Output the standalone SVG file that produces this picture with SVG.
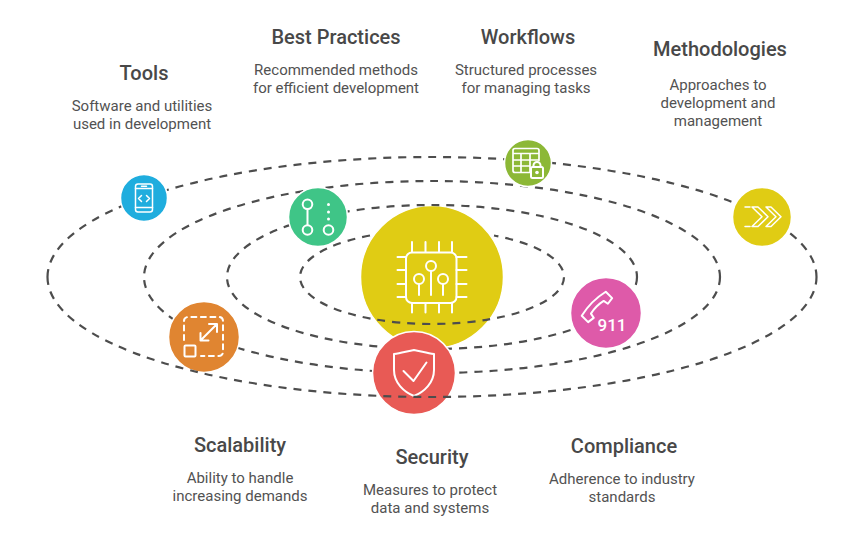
<svg xmlns="http://www.w3.org/2000/svg" width="864" height="538" viewBox="0 0 864 538">
<style>
.t{font-family:Roboto,"Liberation Sans",sans-serif;font-size:20px;font-weight:500;fill:#484848;text-anchor:middle}
.b{font-family:Roboto,"Liberation Sans",sans-serif;font-size:15px;fill:#525252;text-anchor:middle}
.o{fill:none;stroke:#4d4d4d;stroke-width:2.2;stroke-dasharray:8 7}
.n{stroke:#fff;stroke-width:1.5}
.i{fill:none;stroke:#fff;stroke-width:2;stroke-linecap:round;stroke-linejoin:round}
.f{fill:#fff}
</style>
<rect width="864" height="538" fill="#fff"/>
<g id="node-core"><circle class="n" cx="432" cy="277" r="71.500" fill="#e0cc14"/>
<g class="i"><rect x="406" y="252.500" width="50.500" height="50.500" rx="6"/>
<path d="M412 242v10M425.500 242v10M439 242v10M452 242v10M412 303v9.500M425.500 303v9.500M439 303v9.500M452 303v9.500M397.500 257h8.500M397.500 270h8.500M397.500 284h8.500M397.500 297h8.500M456.500 257h10M456.500 270h10M456.500 284h10M456.500 297h10"/>
<circle cx="431" cy="266" r="5"/><path d="M431 271v24"/><circle cx="419" cy="279" r="5"/><path d="M419 284v11"/><circle cx="443" cy="279" r="5"/><path d="M443 284v11"/></g></g>
<g id="connectors">
<path class="o" d="M370 235.500A132 47 0 1 0 494 235.500"/>
<ellipse class="o" cx="432" cy="277" rx="205" ry="72"/>
<ellipse class="o" cx="432" cy="277" rx="288" ry="96"/>
<path class="o" d="M47.500 277A384.500 120 0 0 1 816.500 277"/>
</g>
<g id="node-tools"><circle class="n" cx="144" cy="198" r="23.500" fill="#1fadde"/>
<g class="i" style="stroke-width:1.500"><rect x="135.500" y="184" width="17" height="28" rx="2.500"/><path d="M135.500 188.500h17M135.500 207.500h17M141.500 186.300h5M141.500 195.500l-3 3 3 3M146.500 195.500l3 3-3 3"/></g></g>
<g id="node-best-practices"><circle class="n" cx="318" cy="217" r="29.500" fill="#3fc587"/>
<g class="i"><circle cx="307.500" cy="204.300" r="4.800"/><circle cx="307.500" cy="230" r="4.800"/><path d="M307.500 209v16"/><circle cx="328.500" cy="230" r="4.800"/></g>
<circle class="f" cx="328.500" cy="204.500" r="1.500"/><circle class="f" cx="328.500" cy="212" r="1.500"/><circle class="f" cx="328.500" cy="219" r="1.500"/></g>
<g id="node-workflows"><circle class="n" cx="528" cy="163" r="23.500" fill="#8cb836"/>
<g class="i"><path d="M530 172.500h-15a2 2 0 0 1-2-2v-20a2 2 0 0 1 2-2h22a2 2 0 0 1 2 2v10M513 153.500h26M513 160h26M513 166h17M521 153.500v19M530 153.500v19" style="stroke-width:1.700"/>
<rect x="531" y="167" width="12" height="11" rx="1.500" fill="#8cb836"/><path d="M533.500 167v-1.500a3.500 3.500 0 0 1 7 0V167"/></g><circle class="f" cx="537" cy="172.500" r="1.800"/></g>
<g id="node-methodologies"><circle class="n" cx="762" cy="217" r="29.500" fill="#e0cc14"/>
<g class="i" style="stroke-width:1.500"><path d="M745 207h5M745 226.500h5M752 207h6l10 9.700-10 9.800h-6l10-9.800zM766 207h5l10 9.700-10 9.800h-5l10-9.800z"/></g></g>
<g id="node-scalability"><circle class="n" cx="204" cy="337" r="35.500" fill="#e08531"/>
<g class="i"><path d="M184 340v-19a4 4 0 0 1 4-4h31a4 4 0 0 1 4 4v31a4 4 0 0 1-4 4h-18" stroke-dasharray="5 4.500"/><rect x="184.500" y="345.500" width="11" height="11" rx="1"/><path d="M200.500 340.500l16.500-16.500M209 324h8v8M200.500 333v7.500h8"/></g></g>
<g id="node-security"><circle class="n" cx="414" cy="373" r="41.500" fill="#e85a55"/>
<g class="i"><path d="M394 354c7-1 14-3 20-4 6 1 13 3 20 4v16c0 13-10 22-20 26-10-4-20-13-20-26z"/><path d="M403.500 371l10 10 13-18.500"/></g></g>
<g id="node-compliance"><circle class="n" cx="606" cy="313" r="35.500" fill="#de5aa9"/>
<path class="i" transform="translate(598 308) rotate(-45)" d="M-17 -6Q0 -10 17 -6L17 3L10 4L9 -1Q0 -3 -9 -1L-10 4L-17 3Z"/>
<text x="612" y="331" font-family="Roboto,'Liberation Sans',sans-serif" font-size="17" font-weight="500" fill="#fff" text-anchor="middle">911</text></g>
<g id="connectors-front"><path class="o" d="M47.500 277A384.500 120 0 0 0 816.500 277"/></g>
<g id="labels">
<text class="t" x="144" y="80">Tools</text>
<text class="b" x="142" y="111">Software and utilities</text><text class="b" x="142" y="129">used in development</text>
<text class="t" x="336" y="44">Best Practices</text>
<text class="b" x="336" y="75">Recommended methods</text><text class="b" x="336" y="93">for efficient development</text>
<text class="t" x="528" y="44">Workflows</text>
<text class="b" x="526" y="75">Structured processes</text><text class="b" x="526" y="93">for managing tasks</text>
<text class="t" x="720" y="56">Methodologies</text>
<text class="b" x="718" y="90">Approaches to</text><text class="b" x="718" y="108">development and</text><text class="b" x="718" y="126">management</text>
<text class="t" x="240" y="452">Scalability</text>
<text class="b" x="240" y="483">Ability to handle</text><text class="b" x="240" y="501">increasing demands</text>
<text class="t" x="432" y="464">Security</text>
<text class="b" x="430" y="495">Measures to protect</text><text class="b" x="430" y="513">data and systems</text>
<text class="t" x="624" y="453">Compliance</text>
<text class="b" x="622" y="484">Adherence to industry</text><text class="b" x="622" y="502">standards</text>
</g>
</svg>
